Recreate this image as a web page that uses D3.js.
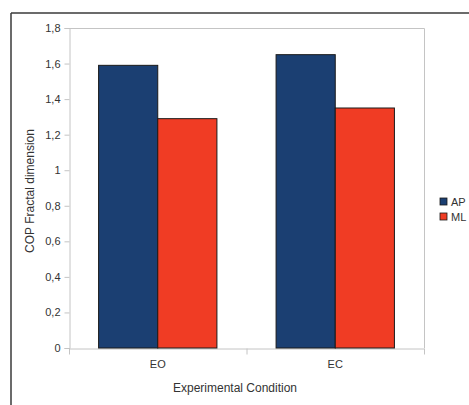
<!DOCTYPE html>
<html>
<head>
<meta charset="utf-8">
<title>COP Fractal dimension</title>
<script src="https://d3js.org/d3.v7.min.js"></script>
<style>
  body { margin: 0; background: #fff; }
  text { font-family: "Liberation Sans", Arial, sans-serif; fill: #333; }
</style>
</head>
<body>
<div id="chart"></div>
<script>
// data
var conditions = ["EO", "EC"];
var seriesNames = ["AP", "ML"];
var apValues = [1.59, 1.65];
var mlValues = [1.29, 1.35];
var yTicks = [0, 0.2, 0.4, 0.6, 0.8, 1, 1.2, 1.4, 1.6, 1.8];
var colors = ["#1b3f72", "#f03c24"];

var width = 469, height = 405;
var margin = { left: 69, top: 28, right: 45, bottom: 57 };
var plotW = width - margin.left - margin.right;
var plotH = height - margin.top - margin.bottom;

var svg = d3.select("#chart").append("svg")
    .attr("width", width)
    .attr("height", height);

// outer frame (top and left only)
svg.append("line").attr("x1", 11).attr("x2", 469).attr("y1", 13).attr("y2", 13)
    .attr("stroke", "#3a3a3a").attr("stroke-width", 1.5);
svg.append("line").attr("x1", 11).attr("x2", 11).attr("y1", 13).attr("y2", 405)
    .attr("stroke", "#3a3a3a").attr("stroke-width", 1.5);

var g = svg.append("g").attr("transform", "translate(" + margin.left + "," + margin.top + ")");

var x = d3.scaleBand().domain(conditions).range([0, plotW]).paddingInner(0).paddingOuter(0);
var y = d3.scaleLinear().domain([0, 1.8]).range([plotH, 0]);
var xSub = d3.scaleBand().domain(seriesNames).range([0, x.bandwidth()]).paddingOuter(0.5).paddingInner(0);

// plot border (top and right)
g.append("path")
    .attr("d", "M0.5,0.5H" + (plotW + 0.5) + "V" + plotH)
    .attr("fill", "none").attr("stroke", "#c4c4c4");

// y axis
var yAxis = g.append("g")
    .attr("transform", "translate(0.5,0)")
    .call(d3.axisLeft(y).tickValues(yTicks).tickSize(5).tickPadding(4)
        .tickFormat(function(d) { return String(d).replace(".", ","); }));
yAxis.select(".domain").attr("stroke", "#c4c4c4");
yAxis.selectAll(".tick line").attr("stroke", "#c4c4c4");
yAxis.selectAll("text").style("font-size", "11px").attr("fill", "#333");

// x axis
var xAxis = g.append("g")
    .attr("transform", "translate(0," + (plotH + 0.5) + ")")
    .call(d3.axisBottom(x).tickSize(0).tickPadding(12));
xAxis.select(".domain").attr("stroke", "#c4c4c4");
xAxis.selectAll("text").style("font-size", "11px").attr("fill", "#333");
// category separator ticks
var sepTicks = [0, x.step(), plotW];
xAxis.selectAll(".sep").data(sepTicks).enter().append("line")
    .attr("x1", function(d) { return d + 0.5; })
    .attr("x2", function(d) { return d + 0.5; })
    .attr("y1", 0).attr("y2", 6)
    .attr("stroke", "#c4c4c4");

// bars
var rows = conditions.map(function(c, i) {
    return { cond: c, vals: [apValues[i], mlValues[i]] };
});
var groups = g.selectAll(".grp").data(rows).enter().append("g")
    .attr("transform", function(d) { return "translate(" + x(d.cond) + ",0)"; });
groups.selectAll("rect").data(function(d) {
    return d.vals.map(function(v, j) { return { name: seriesNames[j], value: v, color: colors[j] }; });
}).enter().append("rect")
    .attr("x", function(d) { return xSub(d.name); })
    .attr("width", xSub.bandwidth())
    .attr("y", function(d) { return y(d.value); })
    .attr("height", function(d) { return plotH - y(d.value); })
    .attr("fill", function(d) { return d.color; })
    .attr("stroke", "#1a1a1a")
    .attr("stroke-width", 1);

// axis titles
svg.append("text")
    .attr("x", 235)
    .attr("y", 392)
    .attr("text-anchor", "middle")
    .style("font-size", "12px")
    .text("Experimental Condition");
svg.append("text")
    .attr("transform", "translate(34," + (margin.top + plotH / 2 + 3) + ") rotate(-90)")
    .attr("text-anchor", "middle")
    .style("font-size", "12px")
    .text("COP Fractal dimension");

// legend
var legend = svg.append("g").attr("transform", "translate(440,198)");
var li = legend.selectAll("g").data(seriesNames).enter().append("g")
    .attr("transform", function(d, i) { return "translate(0," + i * 15 + ")"; });
li.append("rect").attr("width", 7).attr("height", 7)
    .attr("fill", function(d, i) { return colors[i]; })
    .attr("stroke", "#1a1a1a").attr("stroke-width", 0.8);
li.append("text").attr("x", 11).attr("y", 8)
    .style("font-size", "11px")
    .text(function(d) { return d; });
</script>
</body>
</html>
